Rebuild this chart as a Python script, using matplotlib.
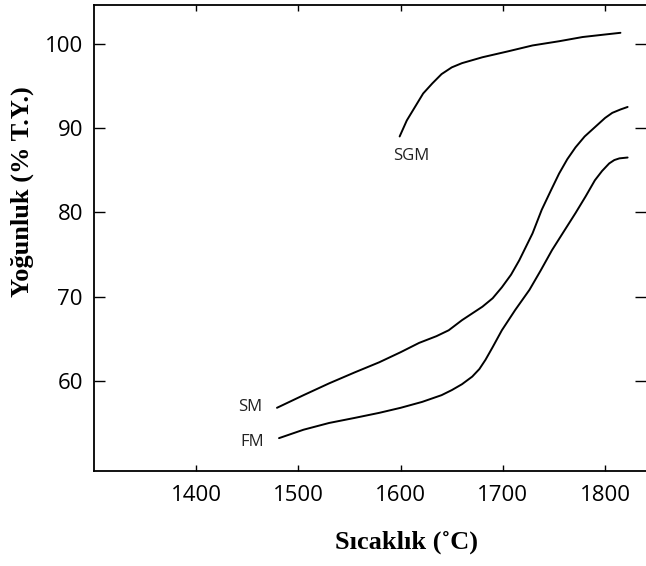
import numpy as np
import matplotlib
matplotlib.use("Agg")
import matplotlib.pyplot as plt

# --- data ---
sgm_T = [1599, 1606, 1614, 1622, 1631, 1640, 1650, 1660, 1680, 1705, 1729, 1755, 1778, 1800, 1815]
sgm_Y = [89.0, 90.9, 92.5, 94.1, 95.3, 96.4, 97.2, 97.7, 98.4, 99.1, 99.8, 100.3, 100.8, 101.1, 101.3]

sm_T = [1479, 1505, 1530, 1555, 1579, 1600, 1618, 1635, 1647, 1660, 1670, 1680, 1690, 1699, 1708,
        1716, 1729, 1738, 1747, 1755, 1763, 1771, 1780, 1790, 1800, 1807, 1815, 1822]
sm_Y = [56.8, 58.3, 59.7, 61.0, 62.2, 63.4, 64.5, 65.3, 66.0, 67.2, 68.0, 68.8, 69.8, 71.1, 72.6,
        74.3, 77.5, 80.3, 82.6, 84.6, 86.3, 87.7, 89.0, 90.1, 91.2, 91.8, 92.2, 92.5]

fm_T = [1481, 1505, 1530, 1555, 1579, 1600, 1621, 1640, 1650, 1660, 1670, 1677, 1683, 1690, 1699,
        1712, 1726, 1737, 1748, 1760, 1771, 1781, 1790, 1797, 1804, 1809, 1814, 1822]
fm_Y = [53.2, 54.2, 55.0, 55.6, 56.2, 56.8, 57.5, 58.3, 58.9, 59.6, 60.5, 61.4, 62.5, 64.0, 66.0,
        68.4, 70.8, 73.1, 75.5, 77.8, 79.9, 81.9, 83.8, 84.9, 85.8, 86.2, 86.4, 86.5]

x_ticks = [1400, 1500, 1600, 1700, 1800]
y_ticks = [60, 70, 80, 90, 100]

# curve labels (text, T, Y)
labels = [("SGM", 1610, 86.7), ("SM", 1453, 56.9), ("FM", 1455, 52.7)]

fig = plt.figure(figsize=(6.46, 5.66), dpi=100)
ax = fig.add_axes([94 / 646, 1 - 471 / 566, 552 / 646, 466 / 566])

for T, Y in [(sgm_T, sgm_Y), (sm_T, sm_Y), (fm_T, fm_Y)]:
    ax.plot(T, Y, color="black", lw=1.4, solid_capstyle="round", solid_joinstyle="round")

for txt, tx, ty in labels:
    ax.text(tx, ty, txt, fontsize=12, family="Open Sans", ha="center", va="center",
            color="#222222")

ax.set_xlim(1300, 1840)
ax.set_ylim(49.3, 104.6)
ax.set_xticks(x_ticks)
ax.set_yticks(y_ticks)

ax.spines["right"].set_visible(False)
for s in ["left", "bottom", "top"]:
    ax.spines[s].set_linewidth(1.3)

ax.tick_params(axis="y", direction="in", length=8, width=1.0, left=True, right=True,
               labelsize=16, pad=8)
ax.tick_params(axis="x", direction="in", length=4, width=1.0, top=True, bottom=True,
               labelsize=16, pad=10)
for lab in ax.get_xticklabels() + ax.get_yticklabels():
    lab.set_family("Open Sans")

fig.text(22 / 646, 1 - 192 / 566, "Yoğunluk (% T.Y.)", rotation=90, ha="center", va="center",
         family="Liberation Serif", fontweight="bold", fontsize=19)
fig.text(407 / 646, 1 - 542 / 566, "Sıcaklık (˚C)", ha="center", va="center",
         family="Liberation Serif", fontweight="bold", fontsize=19)

fig.savefig("out.png", dpi=100)
